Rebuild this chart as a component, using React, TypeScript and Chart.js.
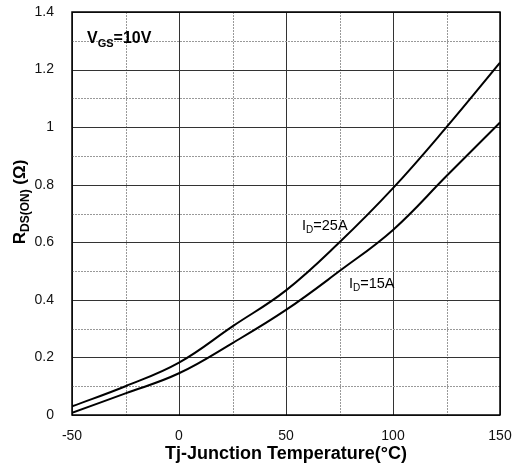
import React, { useEffect, useRef } from "react";
import { Chart, registerables } from "chart.js";

Chart.register(...registerables);

const temps = [-50, -25, 0, 25, 50, 75, 100, 125, 150];
const rds25A = [0.03, 0.1, 0.182, 0.308, 0.433, 0.6, 0.788, 1.0, 1.224];
const rds15A = [0.008, 0.075, 0.145, 0.25, 0.365, 0.5, 0.643, 0.83, 1.016];
const xTickLabels = ["-50", "0", "50", "100", "150"];
const yTickLabels = ["0", "0.2", "0.4", "0.6", "0.8", "1", "1.2", "1.4"];

const FONT = "'Liberation Sans', Arial, sans-serif";

function drawSub(ctx: CanvasRenderingContext2D, x: number, y: number, parts: [string, boolean][], size: number, bold: boolean) {
  let cx = x;
  const w = bold ? "bold " : "";
  for (const [t, sub] of parts) {
    const s = sub ? Math.round(size * 0.7) : size;
    ctx.font = `${w}${s}px ${FONT}`;
    ctx.fillText(t, cx, sub ? y + size * 0.22 : y);
    cx += ctx.measureText(t).width;
  }
  return cx - x;
}
function measureSub(ctx: CanvasRenderingContext2D, parts: [string, boolean][], size: number, bold: boolean) {
  let w = 0;
  const b = bold ? "bold " : "";
  for (const [t, sub] of parts) {
    const s = sub ? Math.round(size * 0.7) : size;
    ctx.font = `${b}${s}px ${FONT}`;
    w += ctx.measureText(t).width;
  }
  return w;
}

const gridPlugin = {
  id: "customGrid",
  beforeDatasetsDraw(chart: any) {
    const { ctx, chartArea: a, scales } = chart;
    const xs = scales.x, ys = scales.y;
    ctx.save();
    ctx.lineWidth = 1;
    for (let v = -50; v <= 150; v += 25) {
      const px = Math.round(xs.getPixelForValue(v)) + 0.5;
      const major = v % 50 === 0;
      ctx.strokeStyle = major ? "#333" : "#999";
      ctx.setLineDash(major ? [] : [2, 1]);
      ctx.beginPath();
      ctx.moveTo(px, a.top);
      ctx.lineTo(px, a.bottom);
      ctx.stroke();
    }
    for (let i = 0; i <= 14; i++) {
      const v = i / 10;
      const py = Math.round(ys.getPixelForValue(v)) + 0.5;
      const major = i % 2 === 0;
      ctx.strokeStyle = major ? "#333" : "#999";
      ctx.setLineDash(major ? [] : [2, 1]);
      ctx.beginPath();
      ctx.moveTo(a.left, py);
      ctx.lineTo(a.right, py);
      ctx.stroke();
    }
    ctx.setLineDash([]);
    ctx.strokeStyle = "#000";
    ctx.lineWidth = 1.5;
    ctx.strokeRect(a.left, a.top, a.right - a.left, a.bottom - a.top);
    ctx.restore();
  },
  afterDraw(chart: any) {
    const { ctx, chartArea: a, scales } = chart;
    const xs = scales.x, ys = scales.y;
    ctx.save();
    ctx.fillStyle = "#000";
    ctx.textBaseline = "alphabetic";
    ctx.textAlign = "left";
    // VGS label
    drawSub(ctx, xs.getPixelForValue(-43), ys.getPixelForValue(1.292), [["V", false], ["GS", true], ["=10V", false]], 16, true);
    // ID labels
    drawSub(ctx, xs.getPixelForValue(57.5), ys.getPixelForValue(0.643), [["I", false], ["D", true], ["=25A", false]], 14.5, false);
    drawSub(ctx, xs.getPixelForValue(79.4), ys.getPixelForValue(0.441), [["I", false], ["D", true], ["=15A", false]], 14.5, false);
    // X title
    ctx.font = `bold 18px ${FONT}`;
    ctx.textAlign = "center";
    ctx.fillText("Tj-Junction Temperature(°C)", (a.left + a.right) / 2, 459);
    // Y title
    ctx.translate(25, 202);
    ctx.rotate(-Math.PI / 2);
    ctx.textAlign = "left";
    const parts: [string, boolean][] = [["R", false], ["DS(ON)", true], [" (Ω)", false]];
    const w = measureSub(ctx, parts, 17, true);
    drawSub(ctx, -w / 2, 0, parts, 17, true);
    ctx.restore();
  },
};

export default function App() {
  const ref = useRef<HTMLCanvasElement>(null);
  useEffect(() => {
    const chart = new Chart(ref.current!, {
      type: "line",
      data: {
        datasets: [
          {
            label: "ID=25A",
            data: temps.map((t, i) => ({ x: t, y: rds25A[i] })),
            borderColor: "#000",
            borderWidth: 2,
            pointRadius: 0,
            tension: 0.4,
          },
          {
            label: "ID=15A",
            data: temps.map((t, i) => ({ x: t, y: rds15A[i] })),
            borderColor: "#000",
            borderWidth: 2,
            pointRadius: 0,
            tension: 0.4,
          },
        ],
      },
      options: {
        responsive: false,
        animation: false,
        layout: { padding: { left: 0, right: 13, top: 12, bottom: 0 } },
        plugins: { legend: { display: false }, tooltip: { enabled: false } },
        scales: {
          x: {
            type: "linear",
            min: -50,
            max: 150,
            afterFit: (s: any) => { s.height = 50; s.paddingLeft = 0; s.paddingRight = 0; },
            grid: { display: false },
            border: { display: false },
            ticks: {
              stepSize: 50,
              padding: 5,
              maxRotation: 0,
              color: "#111",
              font: { size: 14, family: FONT },
              callback: (v: any) => xTickLabels[xTickLabels.indexOf(String(v))] ?? String(v),
            },
          },
          y: {
            type: "linear",
            min: 0,
            max: 1.4,
            afterFit: (s: any) => { s.width = 72; s.paddingTop = 0; s.paddingBottom = 0; },
            grid: { display: false },
            border: { display: false },
            ticks: {
              stepSize: 0.2,
              padding: 10,
              color: "#111",
              font: { size: 14, family: FONT },
              callback: (v: any) => yTickLabels[Math.round(Number(v) * 5)] ?? String(v),
            },
          },
        },
      } as any,
      plugins: [gridPlugin],
    });
    return () => chart.destroy();
  }, []);
  return (
    <div style={{ position: "fixed", left: 0, top: 0, width: 513, height: 465, background: "#fff" }}>
      <canvas ref={ref} width={513} height={465} />
    </div>
  );
}
